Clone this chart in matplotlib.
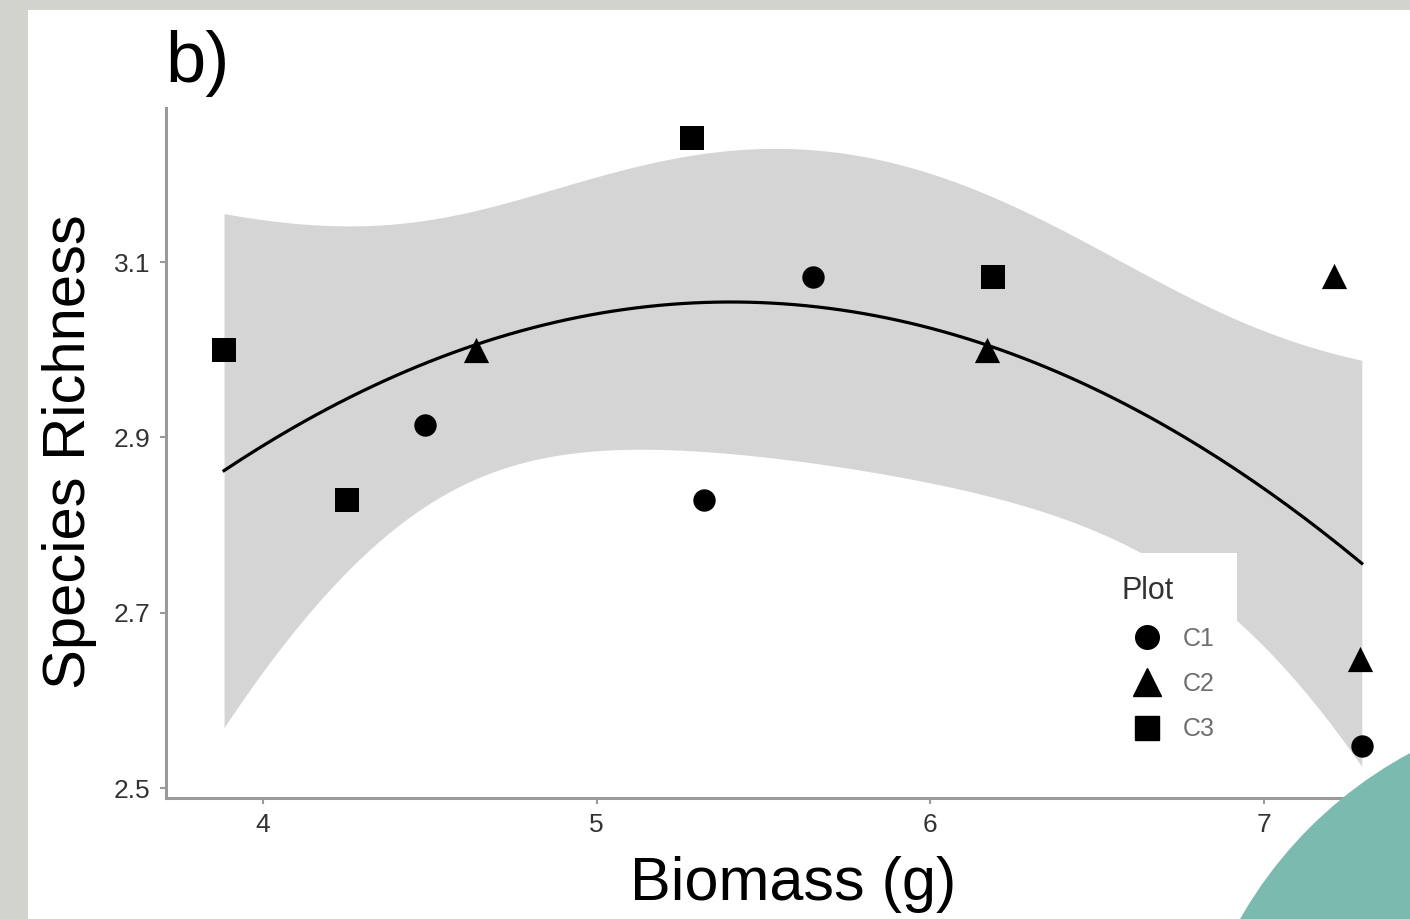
import matplotlib
matplotlib.use("Agg")
import matplotlib.pyplot as plt
from matplotlib.patches import Rectangle, Ellipse
from matplotlib.lines import Line2D
import numpy as np

plt.rcParams["font.family"] = ["Liberation Sans", "DejaVu Sans"]

# data
c1_x = [4.485, 5.320, 5.648, 7.293]
c1_y = [2.914, 2.828, 3.083, 2.548]
c2_x = [4.638, 6.170, 7.210, 7.287]
c2_y = [3.000, 3.000, 3.084, 2.647]
c3_x = [3.883, 4.252, 5.286, 6.188]
c3_y = [3.000, 2.828, 3.242, 3.083]
groups = ["C1", "C2", "C3"]
x_ticks = [4, 5, 6, 7]
y_ticks = [2.5, 2.7, 2.9, 3.1]

W, H = 1410, 919
fig = plt.figure(figsize=(W / 100, H / 100), dpi=100)
fig.patch.set_facecolor("#d3d3ce")
fig.add_artist(Rectangle((28 / W, 0), 1 - 28 / W, 1 - 10 / H,
                         transform=fig.transFigure, facecolor="white",
                         edgecolor="none", zorder=-5))

ax = fig.add_axes([166 / W, 1 - 798 / H, 1 - 166 / W, (798 - 108) / H])
ax.set_facecolor("none")

# quadratic lm fit with 95% band
xs = np.array(c1_x + c2_x + c3_x)
ys = np.array(c1_y + c2_y + c3_y)
X = np.column_stack([np.ones_like(xs), xs, xs ** 2])
beta, *_ = np.linalg.lstsq(X, ys, rcond=None)
resid = ys - X @ beta
dof = len(xs) - 3
s2 = resid @ resid / dof
cov = s2 * np.linalg.inv(X.T @ X)
xg = np.linspace(xs.min(), xs.max(), 200)
Xg = np.column_stack([np.ones_like(xg), xg, xg ** 2])
fit = Xg @ beta
se = np.sqrt(np.einsum("ij,jk,ik->i", Xg, cov, Xg))
t975 = 2.262
ax.fill_between(xg, fit - t975 * se, fit + t975 * se, color="#d5d5d5",
                linewidth=0, zorder=1)
ax.plot(xg, fit, color="black", lw=2.3, zorder=2)

ax.scatter(c1_x, c1_y, marker="o", s=260, color="black", zorder=4, linewidths=0)
ax.scatter(c2_x, c2_y, marker="^", s=330, color="black", zorder=4, linewidths=0)
ax.scatter(c3_x, c3_y, marker="s", s=290, color="black", zorder=4, linewidths=0)

ax.set_xlim(3.709, 7.4375)
ax.set_ylim(2.4886, 3.2757)
ax.set_xticks(x_ticks)
ax.set_xticklabels([str(v) for v in x_ticks])
ax.set_yticks(y_ticks)
ax.set_yticklabels([f"{v:.1f}" for v in y_ticks])
for side in ["top", "right"]:
    ax.spines[side].set_visible(False)
for side in ["left", "bottom"]:
    ax.spines[side].set_color("#9a9a9a")
    ax.spines[side].set_linewidth(2.2)
ax.tick_params(colors="#9a9a9a", width=1.5, length=4, labelsize=19,
               labelcolor="#333333")
ax.tick_params(axis="y", pad=7)
ax.tick_params(axis="x", pad=7)

handles = [
    Line2D([], [], marker="o", ls="", color="black", markersize=17),
    Line2D([], [], marker="^", ls="", color="black", markersize=20),
    Line2D([], [], marker="s", ls="", color="black", markersize=17),
]
leg = ax.legend(handles, groups, title="Plot", loc="upper left",
                bbox_to_anchor=(0.750, 0.355), frameon=True, fontsize=18,
                title_fontsize=22, labelspacing=0.85, handletextpad=0.44,
                handlelength=2.0, borderpad=0.9, borderaxespad=0)
leg.get_frame().set_facecolor("white")
leg.get_frame().set_edgecolor("none")
leg.get_frame().set_alpha(1)
leg.get_frame().set_boxstyle("square", pad=0)
leg._legend_box.align = "left"
for txt in leg.get_texts():
    txt.set_color("#6e6e6e")
leg.get_title().set_color("#333333")
leg.set_zorder(3)

fig.text(165 / W, 1 - 82 / H, "b)", fontsize=52, color="black", va="baseline")
fig.text(793 / W, 1 - 900 / H, "Biomass (g)", fontsize=44, ha="center",
         va="baseline")
fig.text(70 / W, 1 - 452 / H, "Species Richness", fontsize=43, rotation=90,
         ha="center", va="center")

fig.add_artist(Ellipse((1613 / W, 1 - 1131 / H), 2 * 429 / W, 2 * 429 / H,
                       transform=fig.transFigure, facecolor="#7bbaae",
                       edgecolor="none", zorder=10))

fig.savefig("out.png", dpi=100, facecolor=fig.get_facecolor())
